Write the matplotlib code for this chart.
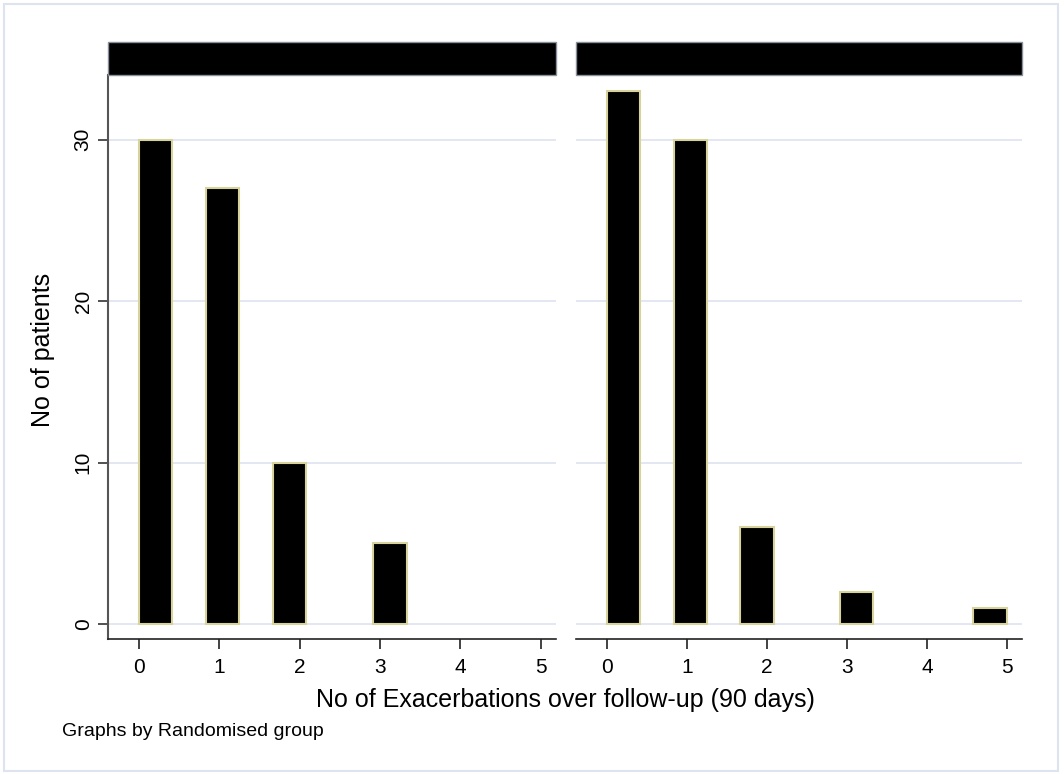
import numpy as np
import matplotlib
matplotlib.use("Agg")
import matplotlib.pyplot as plt
from matplotlib.patches import Rectangle

plt.rcParams['font.family'] = ['Liberation Sans', 'DejaVu Sans']

# Data: number of exacerbations and patient counts per randomised group
exac_values = [0, 1, 2, 3, 5]
group1_counts = [30, 27, 10, 5, 0]
group2_counts = [33, 30, 6, 2, 1]
xticks = [0, 1, 2, 3, 4, 5]
yticks = [0, 10, 20, 30]
n_bins = 12
xlabel = "No of Exacerbations over follow-up (90 days)"
ylabel = "No of patients"
note = "Graphs by Randomised group"

W, H = 1064, 774
fig = plt.figure(figsize=(W / 100, H / 100), dpi=100, facecolor='white')

def fx(px):
    return px / W

def fy(py):
    return 1 - py / H

# outer border
fig.patches.append(Rectangle((fx(4), fy(771)), fx(1058) - fx(4), fy(4) - fy(771),
                             transform=fig.transFigure, fill=False,
                             edgecolor='#dde3ef', linewidth=1.5))

bottom, top = fy(639), fy(75)
panels = [(108, 556), (576, 1022)]
bins = np.linspace(0, 5, n_bins + 1)
grid_c = '#e1e5f0'
edge_c = '#d8d29c'

for i, ((l, r), counts) in enumerate(zip(panels, [group1_counts, group2_counts])):
    ax = fig.add_axes([fx(l), bottom, fx(r) - fx(l), top - bottom])
    heights, edges = np.histogram(exac_values, bins=bins, weights=counts)
    mask = heights > 0
    ax.bar(edges[:-1][mask], heights[mask], width=np.diff(edges)[mask], align='edge',
           color='black', edgecolor=edge_c, linewidth=1.5, zorder=3)
    ax.set_xlim(-0.386, 5.19)
    ax.set_ylim(-0.93, 34.0)
    ax.set_yticks(yticks)
    ax.set_xticks(xticks)
    ax.tick_params(axis='x', length=7, width=1.2, color='#222222', pad=7,
                   labelsize=15)
    for g in yticks:
        ax.axhline(g, color=grid_c, linewidth=1.3, zorder=1)
    for s in ['top', 'right']:
        ax.spines[s].set_visible(False)
    ax.spines['bottom'].set_color('#222222')
    ax.spines['bottom'].set_linewidth(1.2)
    if i == 0:
        ax.spines['left'].set_color('#555555')
        ax.spines['left'].set_linewidth(1.5)
        ax.tick_params(axis='y', length=7, width=1.2, color='#333333', pad=4,
                       labelsize=15, labelrotation=90)
        for lab in ax.get_yticklabels():
            lab.set_va('center')
    else:
        ax.spines['left'].set_visible(False)
        ax.tick_params(axis='y', left=False, labelleft=False)
    # black strip header
    fig.patches.append(Rectangle((fx(l), fy(75)), fx(r) - fx(l), fy(42) - fy(75),
                                 transform=fig.transFigure, facecolor='black',
                                 edgecolor='#8a8f9c', linewidth=1.0))

fig.text(fx(43), fy(350), ylabel, rotation=90, ha='center', va='center', fontsize=18)
fig.text(fx(565), fy(700), xlabel, ha='center', va='center', fontsize=18)
fig.text(fx(62), fy(731), note, ha='left', va='center', fontsize=14)

fig.savefig('out.png', dpi=100, facecolor='white')
